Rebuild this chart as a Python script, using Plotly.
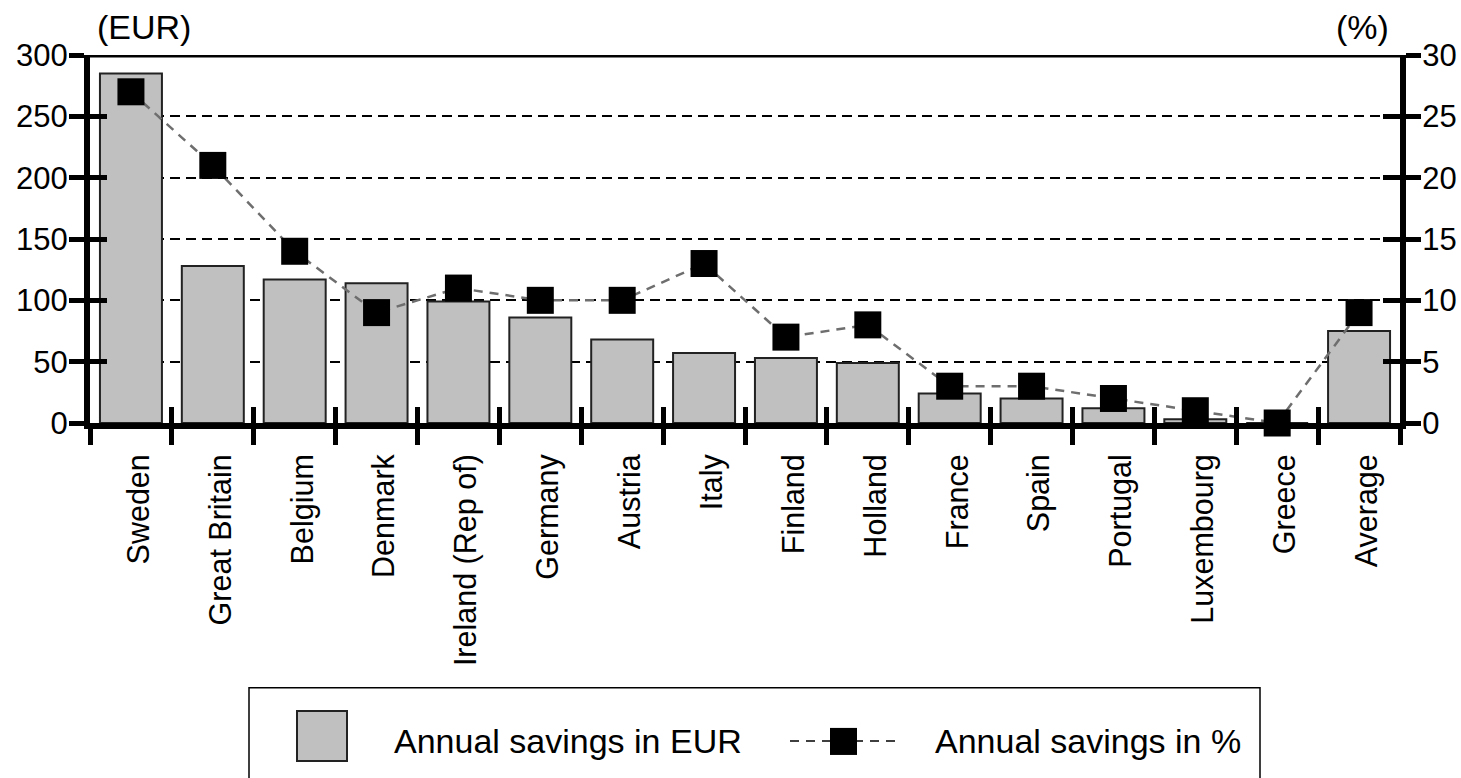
import plotly.graph_objects as go

categories = ["Sweden", "Great Britain", "Belgium", "Denmark", "Ireland (Rep of)",
              "Germany", "Austria", "Italy", "Finland", "Holland", "France", "Spain",
              "Portugal", "Luxembourg", "Greece", "Average"]
savings_eur = [285, 128, 117, 114, 99, 86, 68, 57, 53, 49, 24, 20, 12, 3, 0, 75]
savings_pct = [27, 21, 14, 9, 11, 10, 10, 13, 7, 8, 3, 3, 2, 1, 0, 9]
eur_ticks = [0, 50, 100, 150, 200, 250, 300]
pct_ticks = [0, 5, 10, 15, 20, 25, 30]

FONT = "Arial, Liberation Sans, sans-serif"

fig = go.Figure()
fig.add_trace(go.Bar(
    x=categories, y=savings_eur, name="Annual savings in EUR",
    marker=dict(color="#c0c0c0", line=dict(color="#222222", width=2)),
    xaxis="x", yaxis="y", showlegend=False,
))
fig.add_trace(go.Scatter(
    x=categories, y=savings_pct, name="Annual savings in %",
    mode="lines+markers",
    line=dict(color="#6e6e6e", width=2.5, dash="9px,7px"),
    marker=dict(symbol="square", size=27, color="black", line=dict(width=0)),
    xaxis="x2", yaxis="y2", cliponaxis=False, showlegend=False,
))

common_x = dict(type="category", categoryorder="array", categoryarray=categories,
                range=[-0.5, len(categories) - 0.5], automargin=False)

fig.update_layout(
    width=1461, height=778,
    margin=dict(l=90, r=61, t=55, b=355, autoexpand=False),
    paper_bgcolor="white", plot_bgcolor="white",
    bargap=0.243,
    font=dict(family=FONT, color="black", size=30),
    xaxis=dict(**common_x, showline=True, linecolor="black", linewidth=6,
               ticks="outside", tickson="boundaries", ticklen=16, tickwidth=5,
               tickcolor="black", tickangle=-90, tickfont=dict(size=30.5),
               ticklabelstandoff=13, ticklabelshift=8, showgrid=False, zeroline=False),
    xaxis2=dict(**common_x, overlaying="x", anchor="y", side="bottom",
                showline=False, ticks="inside", tickson="boundaries", ticklen=16,
                tickwidth=5, tickcolor="black", showticklabels=False,
                showgrid=False, zeroline=False),
    yaxis=dict(range=[0, 300], tickvals=eur_ticks, showline=True, linecolor="black",
               linewidth=6, ticks="outside", ticklen=15, tickwidth=5, tickcolor="black",
               tickfont=dict(size=31), ticklabelstandoff=-5,
               showgrid=True, gridcolor="black", gridwidth=1.5,
               griddash="10px,6px", zeroline=False, automargin=False),
    yaxis3=dict(range=[0, 300], tickvals=eur_ticks, overlaying="y", side="left",
                anchor="x", ticks="inside", ticklen=17, tickwidth=5, tickcolor="black",
                showticklabels=False, showgrid=False, showline=False, zeroline=False,
                automargin=False),
    yaxis2=dict(range=[0, 30], tickvals=pct_ticks, overlaying="y", side="right",
                anchor="x2", showline=True, linecolor="black", linewidth=6,
                ticks="outside", ticklen=15, tickwidth=5, tickcolor="black",
                tickfont=dict(size=31), ticklabelstandoff=-5,
                showgrid=False, zeroline=False, automargin=False),
    yaxis4=dict(range=[0, 30], tickvals=pct_ticks, overlaying="y", side="right",
                anchor="x", ticks="inside", ticklen=17, tickwidth=5, tickcolor="black",
                showticklabels=False, showgrid=False, showline=False, zeroline=False,
                automargin=False),
)

# invisible traces so the tick-only overlay axes render
fig.add_trace(go.Scatter(x=categories, y=savings_eur, mode="none", xaxis="x", yaxis="y3",
                         showlegend=False, hoverinfo="skip"))
fig.add_trace(go.Scatter(x=categories, y=savings_pct, mode="none", xaxis="x", yaxis="y4",
                         showlegend=False, hoverinfo="skip"))

# solid top line at 300
fig.add_shape(type="line", xref="paper", yref="y", x0=-0.0115, x1=1.0122, y0=300, y1=300,
              line=dict(color="black", width=5))

# axis unit labels
fig.add_annotation(text="(EUR)", xref="paper", yref="paper", x=0.004, y=1.075,
                   xanchor="left", yanchor="middle", showarrow=False, font=dict(size=34))
fig.add_annotation(text="(%)", xref="paper", yref="paper", x=0.9935, y=1.075,
                   xanchor="right", yanchor="middle", showarrow=False, font=dict(size=34))

# manual legend (paper coords: x=(px-90)/1310, y=(422.5-py)/367.5)
def px_x(p):
    return (p - 90) / 1310

def px_y(p):
    return (422.5 - p) / 367.5

fig.add_shape(type="rect", xref="paper", yref="paper",
              x0=px_x(249), x1=px_x(1260), y0=px_y(687), y1=px_y(800),
              line=dict(color="black", width=1.5), fillcolor="rgba(0,0,0,0)")
fig.add_shape(type="rect", xref="paper", yref="paper",
              x0=px_x(297), x1=px_x(347), y0=px_y(710), y1=px_y(760),
              line=dict(color="#222222", width=2), fillcolor="#c0c0c0")
fig.add_annotation(text="Annual savings in EUR", xref="paper", yref="paper",
                   x=px_x(392), y=px_y(740), xanchor="left", yanchor="middle",
                   showarrow=False, font=dict(size=34))
fig.add_shape(type="line", xref="paper", yref="paper",
              x0=px_x(790), x1=px_x(900), y0=px_y(740), y1=px_y(740),
              line=dict(color="black", width=1.5, dash="9px,7px"))
fig.add_shape(type="rect", xref="paper", yref="paper",
              x0=px_x(830), x1=px_x(857), y0=px_y(727), y1=px_y(754),
              line=dict(color="black", width=0), fillcolor="black")
fig.add_annotation(text="Annual savings in %", xref="paper", yref="paper",
                   x=px_x(933), y=px_y(740), xanchor="left", yanchor="middle",
                   showarrow=False, font=dict(size=34))

fig.write_html(
    "out.html",
    config={"displayModeBar": False},
    post_script="document.body.style.margin='0';document.body.style.overflow='hidden';",
)
